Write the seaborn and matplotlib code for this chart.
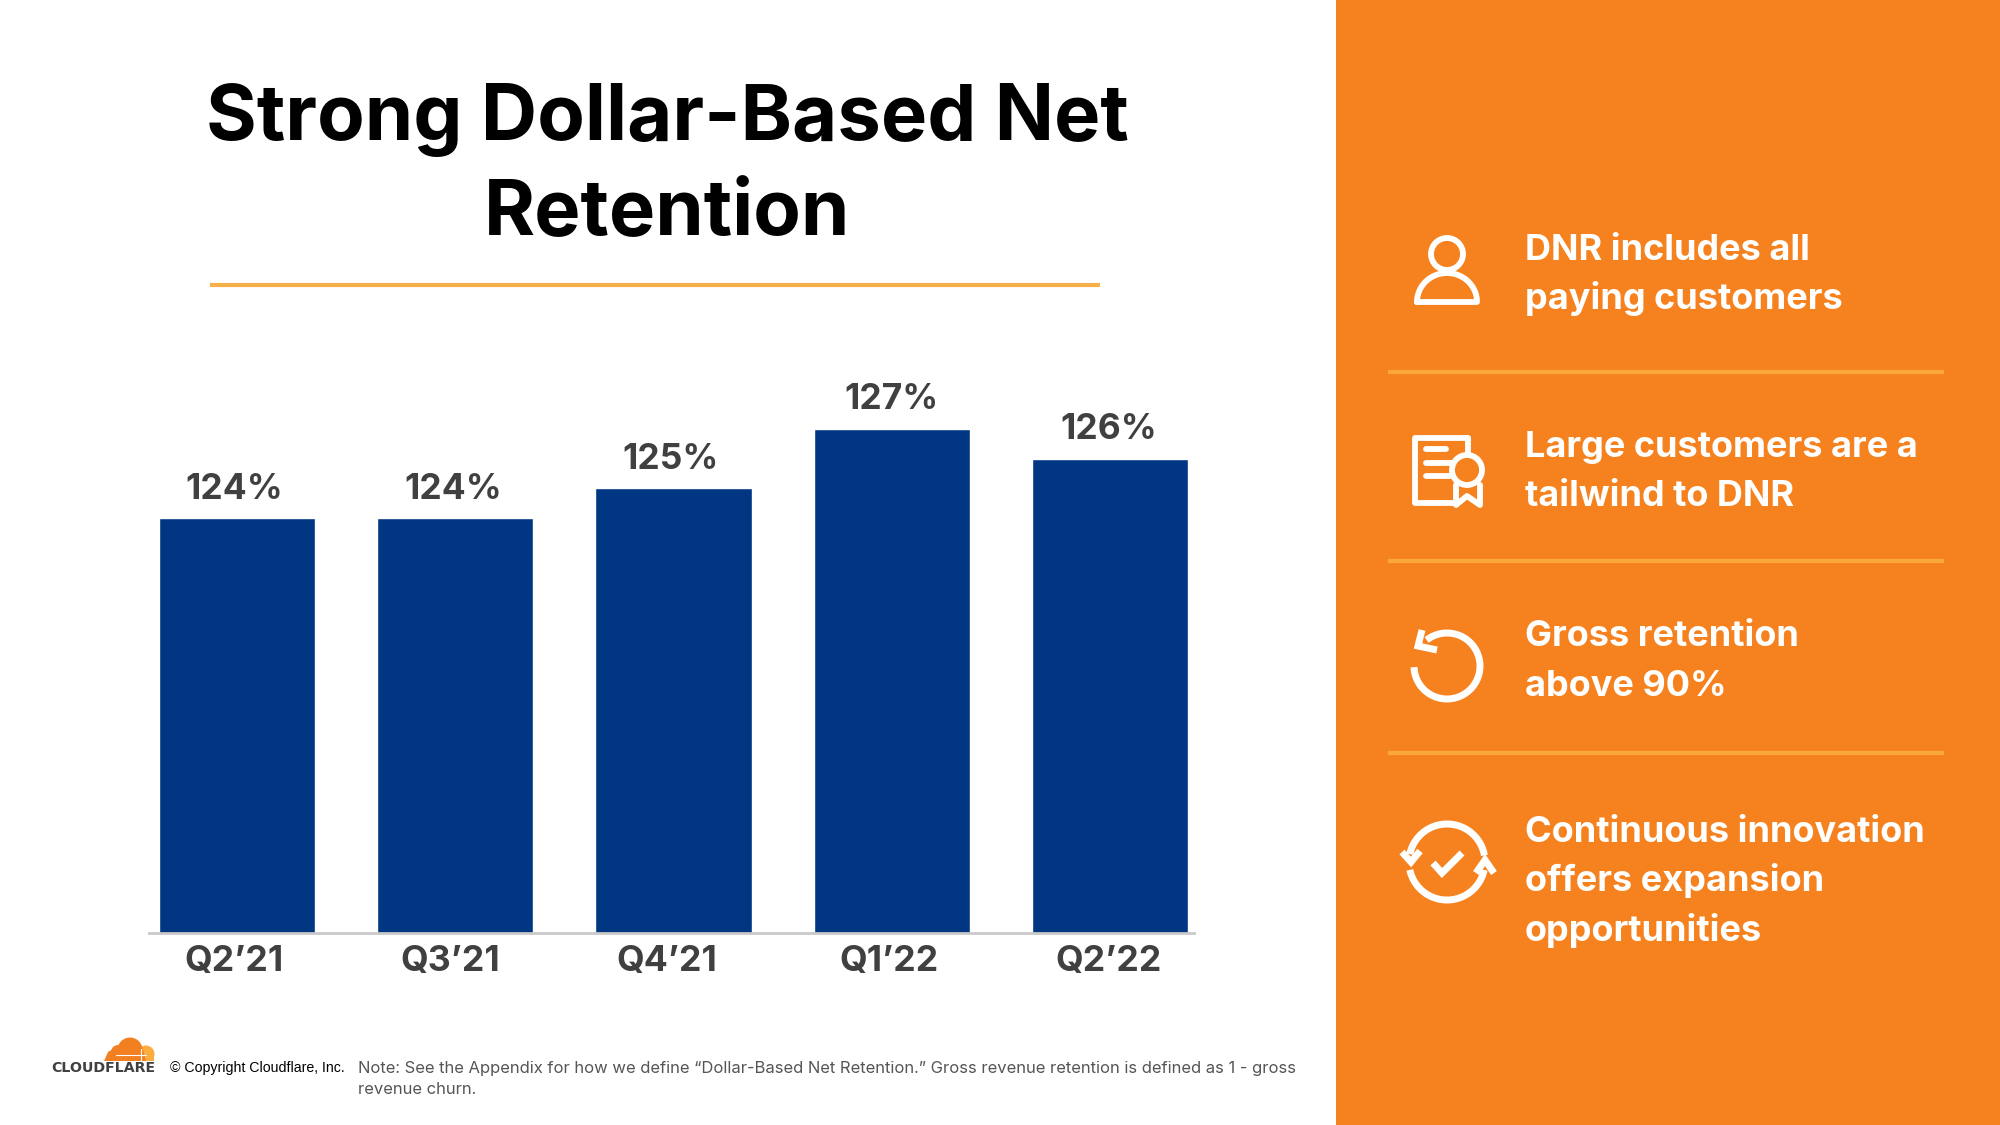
import matplotlib
matplotlib.use("Agg")
import matplotlib.pyplot as plt
from matplotlib.patches import Rectangle, Circle, Polygon
import numpy as np
import pandas as pd
import seaborn as sns

quarters = ["Q2’21", "Q3’21", "Q4’21", "Q1’22", "Q2’22"]
retention = [124, 124, 125, 127, 126]
value_labels = ["124%", "124%", "125%", "127%", "126%"]
title_lines = ["Strong Dollar-Based Net", "Retention"]
panel_items = [
    ["DNR includes all", "paying customers"],
    ["Large customers are a", "tailwind to DNR"],
    ["Gross retention", "above 90%"],
    ["Continuous innovation", "offers expansion", "opportunities"],
]
note_lines = [
    "Note: See the Appendix for how we define “Dollar-Based Net Retention.” Gross revenue retention is defined as 1 - gross",
    "revenue churn.",
]
copyright_text = "© Copyright Cloudflare, Inc."

ORANGE = "#F6821F"
LINE = "#FBA83A"
NAVY = "#003682"
DARK = "#404040"
W, H = 2000, 1125

sns.set_theme(style="white")
plt.rcParams["font.family"] = ["Inter", "DejaVu Sans"]
fig = plt.figure(figsize=(20, 11.25), dpi=100, facecolor="white")

# Full-slide layer in pixel units
bg = fig.add_axes([0, 0, 1, 1])
bg.set_xlim(0, W)
bg.set_ylim(H, 0)
bg.axis("off")
bg.add_patch(Rectangle((1336, 0), W - 1336, H, fc=ORANGE, ec="none"))

# Title and rule
for txt, y in zip(title_lines, [120, 214]):
    bg.text(667, y, txt, ha="center", va="center", fontsize=56, fontweight="bold", color="#000000")
bg.plot([210, 1100], [284.5, 284.5], color="#F6B04A", lw=3, solid_capstyle="butt")

# Panel dividers
for y in [372, 561, 753]:
    bg.plot([1388, 1944], [y, y], color=LINE, lw=3, solid_capstyle="butt")

# Panel text
panel_y = [[250, 299], [447, 496], [636, 686], [832, 881, 931]]
for lines, ys in zip(panel_items, panel_y):
    for txt, y in zip(lines, ys):
        bg.text(1525, y, txt, ha="left", va="center", fontsize=26, fontweight="bold", color="white")

# Icons
ic = dict(color="white", lw=4.2, solid_capstyle="round", solid_joinstyle="round")
sharp = dict(color="white", lw=5, solid_capstyle="butt", solid_joinstyle="miter")
def arc(cx, cy, r, a0, a1, lw=4.2):
    t = np.radians(np.linspace(a0, a1, 80))
    bg.plot(cx + r * np.cos(t), cy + r * np.sin(t), color="white", lw=lw, solid_capstyle="butt")

# person
bg.add_patch(Circle((1447, 254), 16, fc="none", ec="white", lw=4.2))
t = np.radians(np.linspace(180, 360, 60))
bg.plot(np.r_[1447 + 30 * np.cos(t), 1417], np.r_[302 + 29 * np.sin(t), 302], **ic)

# certificate
bg.plot([1468, 1468], [438, 452], **ic)
bg.plot([1455, 1415, 1415, 1468], [503, 503, 438, 438], **ic)
bg.plot([1426, 1446], [449, 449], **ic)
bg.plot([1426, 1456], [463, 463], **ic)
bg.plot([1426, 1450], [476, 476], **ic)
bg.add_patch(Circle((1467, 470), 15, fc=ORANGE, ec="white", lw=4.2, zorder=3))
bg.plot([1456, 1456, 1467, 1480, 1480], [485, 505, 496, 505, 485], zorder=3, **ic)

# retry arrow
arc(1447, 666, 33, -128, 178, lw=5)
bg.plot([1422, 1418, 1437], [630, 646, 650], **sharp)

# cycle with check
arc(1447, 862, 38, -168, -10, lw=5)
arc(1447, 862, 38, 12, 168, lw=5)
bg.plot([1402, 1411, 1420], [852, 862, 851], **sharp)
bg.plot([1476, 1485, 1494], [873, 860, 873], **sharp)
bg.plot([1433, 1442, 1462], [863, 873, 853], **sharp)

# Footer
for txt, y in zip(note_lines, [1068.5, 1089.5]):
    bg.text(358, y, txt, ha="left", va="center", fontsize=11.95, color="#555555")
bg.text(170, 1068, copyright_text, ha="left", va="center", fontsize=10.2, color="#000000",
        family=["Liberation Sans", "DejaVu Sans"])
bg.text(51, 1068.5, "CLOUDFLARE", ha="left", va="center", fontsize=10.2, fontweight="bold",
        color="#404041", family=["DejaVu Sans"])

# Cloud logo, flat-bottomed
clip = Rectangle((95, 1030), 70, 31, transform=bg.transData)
cloud = [
    Circle((146, 1054), 8.5, fc="#FBAD41", ec="none"),
    Rectangle((140, 1053), 14, 8, fc="#FBAD41", ec="none"),
    Circle((130, 1050), 12.5, fc="#F38020", ec="none"),
    Circle((118, 1052), 7, fc="#F38020", ec="none"),
    Polygon([(104, 1061), (108, 1052), (118, 1046), (143, 1050), (146, 1061)], fc="#F38020", ec="none"),
]
for p in cloud:
    bg.add_patch(p)
    p.set_clip_path(clip)
bg.plot([116, 146], [1055, 1055], color="white", lw=0.8)
bg.plot([141, 141], [1049, 1061], color="white", lw=0.8)

# Bar chart
df = pd.DataFrame({"quarter": quarters, "retention": retention})
left, right, top, base = 149, 1194, 400, 933
ppu = 29.5
ax = fig.add_axes([left / W, 1 - base / H, (right - left) / W, (base - top) / H])
ax.patch.set_alpha(0)
sns.barplot(data=df, x="quarter", y="retention", color=NAVY, saturation=1, width=0.715, ax=ax)
per_cat = 218.25
ax.set_xlim(-(237 - left) / per_cat, (right - 237) / per_cat)
ymin = 124 - 415 / ppu
ax.set_ylim(ymin, ymin + (base - top) / ppu)
ax.set_xlabel("")
ax.set_ylabel("")
ax.set_yticks([])
sns.despine(ax=ax, left=True)
ax.spines["bottom"].set_color("#C9C9C9")
ax.spines["bottom"].set_linewidth(2)
ax.tick_params(axis="x", length=0, pad=0)
ax.set_xticks(range(len(quarters)))
ax.set_xticklabels([])

label_dx = [-2.5, -2.5, -2.5, -0.5, -1]   # px shift from bar centre
label_dy = [23, 23, 23.5, 24.2, 23.5]     # pt above bar top
tick_dx = [-2.5, -4.5, -6.5, -2.5, -1]
for i, (q, v, lab) in enumerate(zip(quarters, retention, value_labels)):
    ax.annotate(lab, (i, v), xytext=(label_dx[i] * 0.72, label_dy[i]), textcoords="offset points",
                ha="center", va="center_baseline", fontsize=25.5, fontweight="bold", color=DARK)
    ax.annotate(q, (i, ymin), xytext=(tick_dx[i] * 0.72, -20.5), textcoords="offset points",
                ha="center", va="center", fontsize=25.7, fontweight="bold", color=DARK, annotation_clip=False)

fig.savefig("out.png", dpi=100, facecolor="white")
